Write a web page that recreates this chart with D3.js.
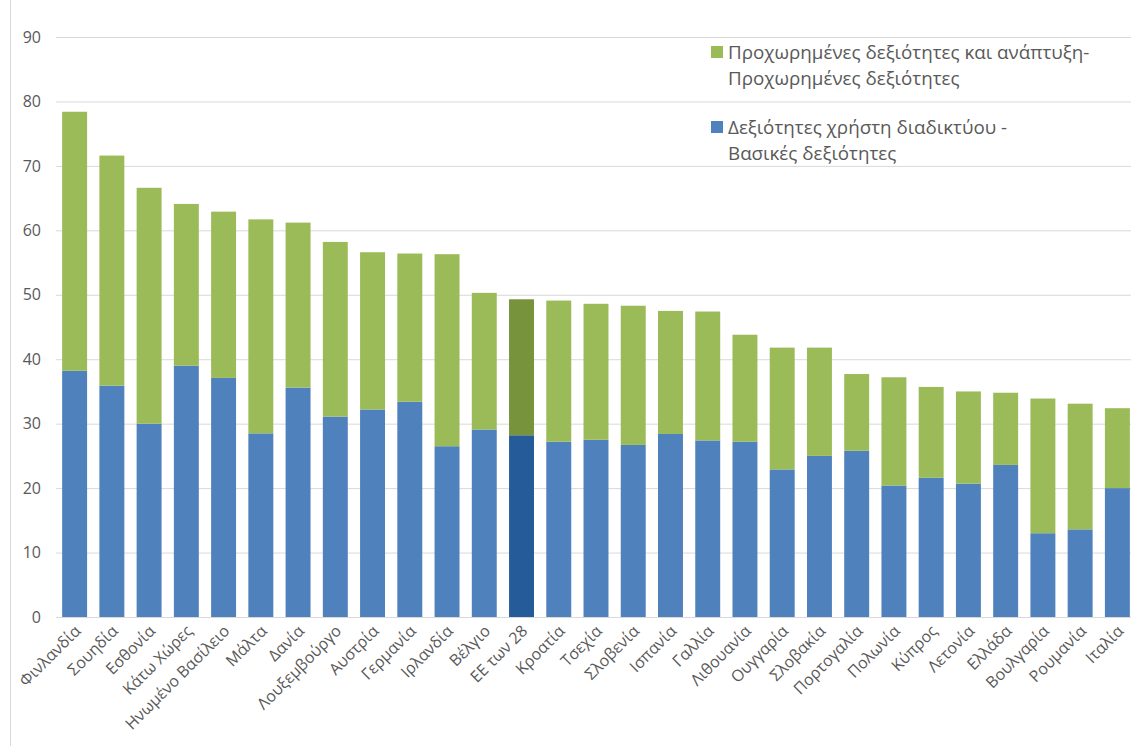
<!DOCTYPE html>
<html><head><meta charset="utf-8">
<script src="https://cdn.jsdelivr.net/npm/d3@7"></script>
<style>body{margin:0;background:#fff}svg{display:block}text{font-family:"Open Sans","Noto Sans",sans-serif;fill:#595959}</style>
</head><body><svg id="c" width="1131" height="746"></svg>
<script>
const countries = ["Φινλανδία","Σουηδία","Εσθονία","Κάτω Χώρες","Ηνωμένο Βασίλειο","Μάλτα","Δανία","Λουξεμβούργο","Αυστρία","Γερμανία","Ιρλανδία","Βέλγιο","ΕΕ των 28","Κροατία","Τσεχία","Σλοβενία","Ισπανία","Γαλλία","Λιθουανία","Ουγγαρία","Σλοβακία","Πορτογαλία","Πολωνία","Κύπρος","Λετονία","Ελλάδα","Βουλγαρία","Ρουμανία","Ιταλία"];
const basicValues = [38.2,35.9,30.0,39.0,37.1,28.5,35.6,31.1,32.2,33.4,26.5,29.1,28.2,27.2,27.5,26.7,28.4,27.4,27.2,22.9,25.0,25.8,20.4,21.6,20.7,23.6,13.0,13.6,20.0];
const totalValues = [78.4,71.6,66.6,64.1,62.9,61.7,61.2,58.2,56.6,56.4,56.3,50.3,49.3,49.1,48.6,48.3,47.5,47.4,43.8,41.8,41.8,37.7,37.2,35.7,35.0,34.8,33.9,33.1,32.4];
const yTicks = [0,10,20,30,40,50,60,70,80,90];
const legendLabels = [["Προχωρημένες δεξιότητες και ανάπτυξη-","Προχωρημένες δεξιότητες"],["Δεξιότητες χρήστη διαδικτύου -","Βασικές δεξιότητες"]];
const highlight = "ΕΕ των 28";

const svg = d3.select("#c");
const x = d3.scaleBand().domain(countries).range([56,1136]).paddingInner(0.33).paddingOuter(0.165);
const y = d3.scaleLinear().domain([0,90]).range([617,37]);

svg.append("line").attr("x1",10.5).attr("x2",10.5).attr("y1",0).attr("y2",746).attr("stroke","#D9D9D9");

const yAxis = svg.append("g").attr("transform","translate(56,0)")
  .call(d3.axisLeft(y).tickValues(yTicks).tickSize(-1080).tickPadding(15));
yAxis.select(".domain").remove();
yAxis.selectAll(".tick line").attr("stroke","#D9D9D9").attr("stroke-width",1);
yAxis.selectAll(".tick text").attr("font-size",16).style("fill","#595959");

const data = countries.map((c,i)=>({c, b:basicValues[i], t:totalValues[i]}));
const g = svg.append("g");
g.selectAll(".b").data(data).join("rect")
  .attr("x",d=>x(d.c)).attr("width",x.bandwidth())
  .attr("y",d=>y(d.b)).attr("height",d=>y(0)-y(d.b))
  .attr("fill",d=>d.c===highlight?"#265B9A":"#4F81BD");
g.selectAll(".t").data(data).join("rect")
  .attr("x",d=>x(d.c)).attr("width",x.bandwidth())
  .attr("y",d=>y(d.t)).attr("height",d=>y(d.b)-y(d.t))
  .attr("fill",d=>d.c===highlight?"#77933C":"#9BBB59");

const xAxis = svg.append("g").attr("transform","translate(0,617)")
  .call(d3.axisBottom(x).tickSize(0).tickPadding(0));
xAxis.select(".domain").attr("stroke","#D9D9D9");
xAxis.selectAll(".tick text").attr("font-size",16).style("fill","#595959")
  .attr("text-anchor","end").attr("dy",0)
  .attr("transform","translate(7,15) rotate(-45)");

const leg = svg.append("g");
const legColors = ["#9BBB59","#4F81BD"];
const legY = [52,127];
legendLabels.forEach((lines,i)=>{
  leg.append("rect").attr("x",711).attr("y",legY[i]-6).attr("width",12).attr("height",12).attr("fill",legColors[i]);
  lines.forEach((ln,j)=>{
    leg.append("text").attr("x",728).attr("y",legY[i]+j*26).attr("dy","0.35em").attr("font-size",18.8).text(ln);
  });
});
</script></body></html>
